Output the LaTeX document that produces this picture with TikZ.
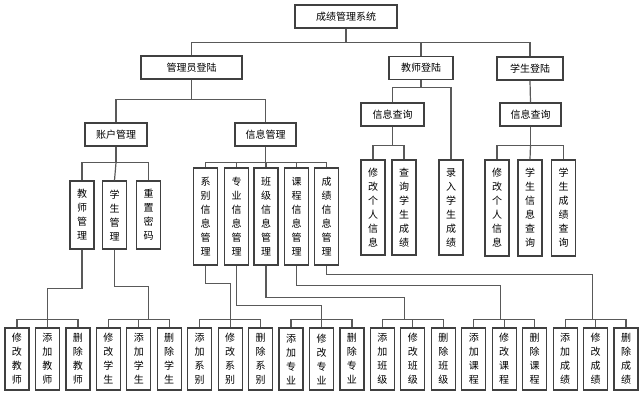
\documentclass[tikz,border=0pt]{standalone}
\usepackage{fontspec}
\newfontfamily\cjk{Noto Sans CJK SC}
\begin{document}
\begin{tikzpicture}[x=0.75pt,y=-0.75pt,
  box/.style={draw=black!75,line width=0.9pt,inner sep=0pt,font=\cjk\fontsize{7.5}{10.5}\selectfont,align=center,fill=white},
  hb/.style={box,minimum height=17.25pt},
  vb/.style={box,text width=18pt},
  ln/.style={draw=black!65,line width=0.9pt}]
\useasboundingbox (0,0) rectangle (640,400);
% top
\node[hb,minimum width=76.5pt] (root) at (346,16.5) {成绩管理系统};
\node[hb,minimum width=75.75pt] (adm) at (191.5,67.5) {管理员登陆};
\node[hb,minimum width=48pt] (tea) at (421,68) {教师登陆};
\node[hb,minimum width=49.5pt] (stu) at (530,68.5) {学生登陆};
\draw[ln] (root.south) -- ++(0,14) coordinate (r1);
\draw[ln] (adm.north) |- (r1) -| (stu.north);
\draw[ln] (r1) -| (tea.north);
% level 2
\node[hb,minimum width=46.5pt] (acc) at (116,134.5) {账户管理};
\node[hb,minimum width=45.75pt] (info) at (265.5,134.5) {信息管理};
\node[hb,minimum width=47.25pt] (tq) at (392.5,114.5) {信息查询};
\node[hb,minimum width=45.75pt] (sq) at (530.5,114.5) {信息查询};
\draw[ln] (adm.south) -- ++(0,20) coordinate (a1);
\draw[ln] (acc.north) |- (a1) -| (info.north);
% teacher branch
\node[vb,minimum height=71.25pt] (t1) at (373,207.5) {修\\改\\个\\人\\信\\息};
\node[vb,minimum height=71.25pt] (t2) at (404,207.5) {查\\询\\学\\生\\成\\绩};
\node[vb,minimum height=71.25pt] (t3) at (451,207.5) {录\\入\\学\\生\\成\\绩};
\draw[ln] (tea.south) -- ++(0,7) coordinate (e1);
\draw[ln] (tq.north) |- (e1) -| (t3.north);
\draw[ln] (tq.south) -- ++(0,19) coordinate (e2);
\draw[ln] (t1.north) |- (e2) -| (t2.north);
% student branch
\node[vb,minimum height=72pt] (s1) at (497,208) {修\\改\\个\\人\\信\\息};
\node[vb,minimum height=72pt] (s2) at (530,208) {学\\生\\信\\息\\查\\询};
\node[vb,minimum height=72pt] (s3) at (563.5,208) {学\\生\\成\\绩\\查\\询};
\draw[ln] (stu.south) -- (sq.north);
\draw[ln] (sq.south) -- ++(0,19) coordinate (f1);
\draw[ln] (s1.north) |- (f1) -| (s3.north);
\draw[ln] (f1) -- (s2.north);
% account
\node[vb,minimum height=51pt] (m1) at (82,215) {教\\师\\管\\理};
\node[vb,minimum height=51pt] (m2) at (114.5,215) {学\\生\\管\\理};
\node[vb,minimum height=51pt] (m3) at (148.5,215) {重\\置\\密\\码};
\draw[ln] (acc.south) -- ++(0,16) coordinate (g1);
\draw[ln] (m1.north) |- (g1) -| (m3.north);
\draw[ln] (g1) -- (m2.north);
% info
\foreach \i/\x/\t in {1/205.5/{系\\别\\信\\息\\管\\理},2/236.5/{专\\业\\信\\息\\管\\理},3/266/{班\\级\\信\\息\\管\\理},4/296.5/{课\\程\\信\\息\\管\\理},5/326.5/{成\\绩\\信\\息\\管\\理}}
  \node[vb,minimum height=72.75pt] (n\i) at (\x,216.5) {\t};
\draw[ln] (info.south) -- ++(0,16) coordinate (h1);
\draw[ln] (n1.north) |- (h1) -| (n5.north);
\foreach \i in {2,3,4} \draw[ln] (n\i.north) -- (n\i.north |- h1);
% bottom
\foreach \i/\t in {0/{修\\改\\教\\师},1/{添\\加\\教\\师},2/{删\\除\\教\\师},3/{修\\改\\学\\生},4/{添\\加\\学\\生},5/{删\\除\\学\\生},6/{添\\加\\系\\别},7/{修\\改\\系\\别},8/{删\\除\\系\\别},9/{添\\加\\专\\业},10/{修\\改\\专\\业},11/{删\\除\\专\\业},12/{添\\加\\班\\级},13/{修\\改\\班\\级},14/{删\\除\\班\\级},15/{添\\加\\课\\程},16/{修\\改\\课\\程},17/{删\\除\\课\\程},18/{添\\加\\成\\绩},19/{修\\改\\成\\绩},20/{删\\除\\成\\绩}}
  \node[vb,minimum height=46.5pt] (b\i) at ({17+30.45*\i},359) {\t};
\foreach \a/\b/\c in {0/1/2,3/4/5,6/7/8,9/10/11,12/13/14,15/16/17,18/19/20}{
  \path (b\b.north) ++(0,-8) coordinate (bus\b);
  \draw[ln] (b\a.north) |- (bus\b) -| (b\c.north);
  \draw[ln] (b\b.north) -- (bus\b);
}
\draw[ln] (m1.south) -- ++(0,39) -| (bus1);
\draw[ln] (m2.south) -- ++(0,37) -| ([xshift=7pt]bus4);
\draw[ln] (n1.south) -- ++(0,18) -| (bus7);
\draw[ln] (n2.south) -- ++(0,40) -| (bus10);
\draw[ln] (n3.south) -- ++(0,32) -| ([xshift=-6pt]bus13);
\draw[ln] (n4.south) -- ++(0,20) -| ([xshift=-3pt]bus16);
\draw[ln] (n5.south) -- ++(0,9) -| ([xshift=-2pt]bus19);
\end{tikzpicture}
\end{document}
